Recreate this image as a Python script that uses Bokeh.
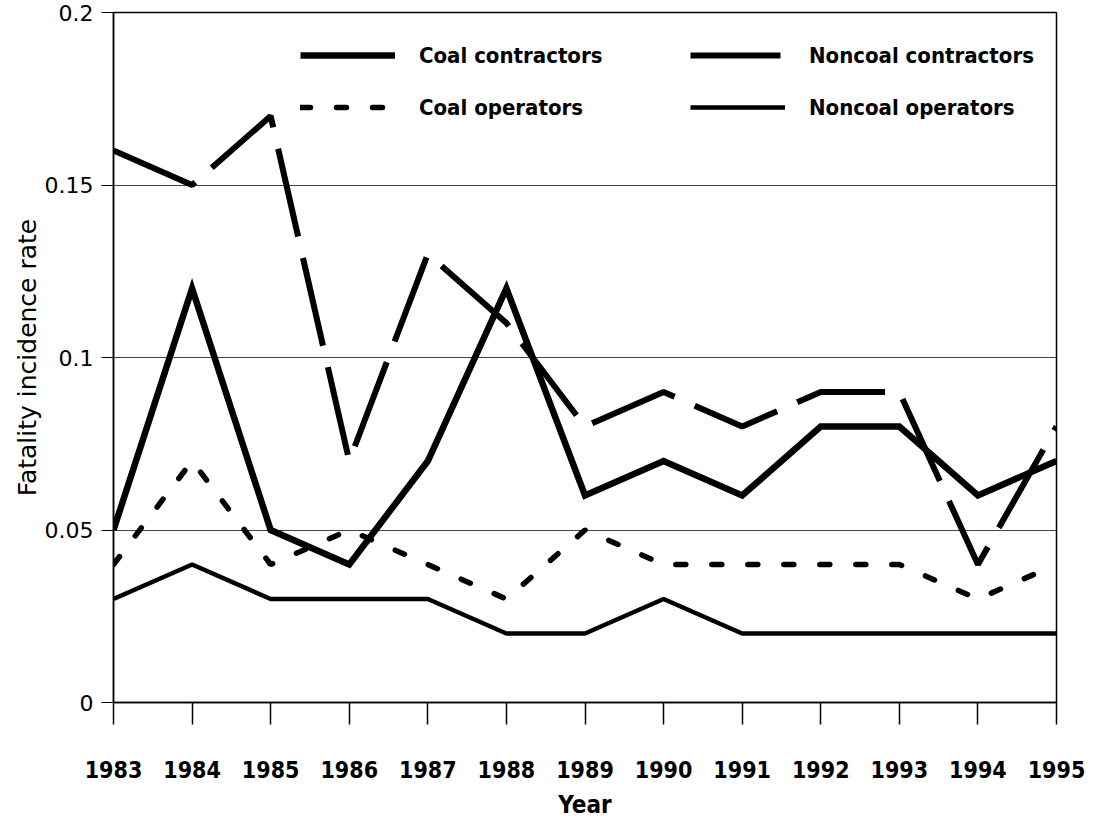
from bokeh.plotting import figure
from bokeh.models import Range1d, FixedTicker, Legend, LegendItem
from bokeh.embed import file_html
from bokeh.resources import INLINE

years = [1983, 1984, 1985, 1986, 1987, 1988, 1989, 1990, 1991, 1992, 1993, 1994, 1995]
coal_contractors = [0.05, 0.12, 0.05, 0.04, 0.07, 0.12, 0.06, 0.07, 0.06, 0.08, 0.08, 0.06, 0.07]
noncoal_contractors = [0.16, 0.15, 0.17, 0.07, 0.13, 0.11, 0.08, 0.09, 0.08, 0.09, 0.09, 0.04, 0.08]
coal_operators = [0.04, 0.07, 0.04, 0.05, 0.04, 0.03, 0.05, 0.04, 0.04, 0.04, 0.04, 0.03, 0.04]
noncoal_operators = [0.03, 0.04, 0.03, 0.03, 0.03, 0.02, 0.02, 0.03, 0.02, 0.02, 0.02, 0.02, 0.02]
y_ticks = [0, 0.05, 0.1, 0.15, 0.2]
y_tick_labels = ["0", "0.05", "0.1", "0.15", "0.2"]

NARROW = "DejaVu Sans Condensed"
REG = "DejaVu Sans"

p = figure(width=1086, height=810, output_backend="svg", toolbar_location=None,
           x_range=Range1d(1983, 1995), y_range=Range1d(0, 0.2),
           min_border_left=113, min_border_top=12, min_border_right=30,
           frame_height=690, frame_width=943)
p.background_fill_color = "white"
p.border_fill_color = "white"
p.outline_line_color = "black"
p.outline_line_width = 1.5

r_cc = p.line(years, coal_contractors, line_color="black", line_width=6.5, line_join="miter")
r_nc = p.line(years, noncoal_contractors, line_color="black", line_width=6, line_dash="90 22")
r_co = p.line(years, coal_operators, line_color="black", line_width=5.5, line_dash="10 26", line_cap="round")
r_no = p.line(years, noncoal_operators, line_color="black", line_width=4.5)

p.xaxis.ticker = FixedTicker(ticks=years)
p.xaxis.major_label_text_font = NARROW
p.xaxis.major_label_text_font_style = "bold"
p.xaxis.major_label_text_font_size = "23px"
p.xaxis.major_label_text_color = "black"
p.xaxis.major_tick_out = 22
p.xaxis.major_tick_in = 0
p.xaxis.major_tick_line_color = "black"
p.xaxis.major_tick_line_width = 1.5
p.xaxis.minor_tick_line_color = None
p.xaxis.axis_line_color = "black"
p.xaxis.axis_line_width = 1.5
p.xaxis.major_label_standoff = 36
p.xaxis.axis_label = "Year"
p.xaxis.axis_label_text_font = NARROW
p.xaxis.axis_label_text_font_style = "bold"
p.xaxis.axis_label_text_font_size = "24px"
p.xaxis.axis_label_text_color = "black"
p.xaxis.axis_label_standoff = 10

p.yaxis.ticker = FixedTicker(ticks=y_ticks)
p.yaxis.major_label_overrides = {t: l for t, l in zip(y_ticks, y_tick_labels)}
p.yaxis.major_label_text_font = REG
p.yaxis.major_label_text_font_size = "22px"
p.yaxis.major_label_text_color = "black"
p.yaxis.major_tick_out = 12
p.yaxis.major_tick_in = 0
p.yaxis.major_tick_line_color = "black"
p.yaxis.minor_tick_line_color = None
p.yaxis.axis_line_color = "black"
p.yaxis.axis_line_width = 1.5
p.yaxis.major_label_standoff = 8
p.yaxis.axis_label = "Fatality incidence rate"
p.yaxis.axis_label_text_font = REG
p.yaxis.axis_label_text_font_style = "normal"
p.yaxis.axis_label_text_font_size = "25px"
p.yaxis.axis_label_text_color = "black"
p.yaxis.axis_label_standoff = 0

p.xgrid.grid_line_color = None
p.ygrid.ticker = FixedTicker(ticks=y_ticks)
p.ygrid.grid_line_color = "#444444"
p.ygrid.grid_line_width = 1

def make_legend(items, x, y):
    lg = Legend(items=items, location=(x, y), orientation="vertical",
                border_line_color=None, background_fill_alpha=0,
                glyph_width=95, glyph_height=30, label_standoff=24, spacing=22,
                padding=0, margin=0,
                label_text_font=NARROW, label_text_font_style="bold",
                label_text_font_size="22px", label_text_color="black")
    return lg

lg1 = make_legend([LegendItem(label="Coal contractors", renderers=[r_cc]),
                   LegendItem(label="Coal operators", renderers=[r_co])], 187, 580)
lg2 = make_legend([LegendItem(label="Noncoal contractors", renderers=[r_nc]),
                   LegendItem(label="Noncoal operators", renderers=[r_no])], 577, 580)
p.add_layout(lg1, "center")
p.add_layout(lg2, "center")

open("out.html", "w").write(file_html(p, INLINE))
